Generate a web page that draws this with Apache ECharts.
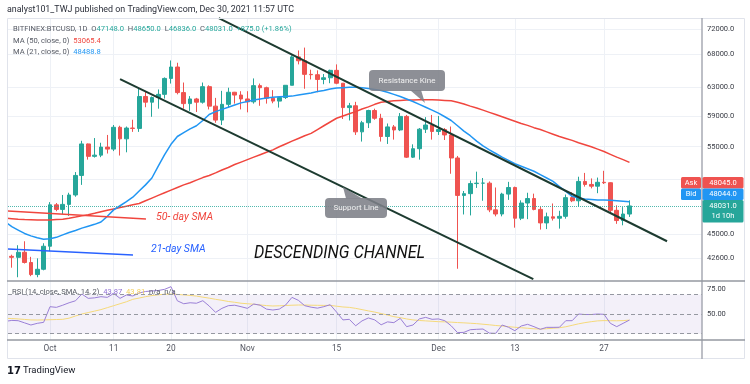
<!DOCTYPE html>
<html><head><meta charset="utf-8">
<script src="https://cdn.jsdelivr.net/npm/echarts@6/dist/echarts.min.js"></script>
<style>html,body{margin:0;padding:0;background:#fff;}#c{width:750px;height:384px;}</style>
</head><body><div id="c"></div>
<script>
const dates = ['Sep 24','Sep 25','Sep 26','Sep 27','Sep 28','Sep 29','Sep 30',
'Oct 1','Oct 2','Oct 3','Oct 4','Oct 5','Oct 6','Oct 7','Oct 8','Oct 9','Oct 10','Oct 11','Oct 12','Oct 13','Oct 14','Oct 15','Oct 16','Oct 17','Oct 18','Oct 19','Oct 20','Oct 21','Oct 22','Oct 23','Oct 24','Oct 25','Oct 26','Oct 27','Oct 28','Oct 29','Oct 30','Oct 31',
'Nov 1','Nov 2','Nov 3','Nov 4','Nov 5','Nov 6','Nov 7','Nov 8','Nov 9','Nov 10','Nov 11','Nov 12','Nov 13','Nov 14','Nov 15','Nov 16','Nov 17','Nov 18','Nov 19','Nov 20','Nov 21','Nov 22','Nov 23','Nov 24','Nov 25','Nov 26','Nov 27','Nov 28','Nov 29','Nov 30',
'Dec 1','Dec 2','Dec 3','Dec 4','Dec 5','Dec 6','Dec 7','Dec 8','Dec 9','Dec 10','Dec 11','Dec 12','Dec 13','Dec 14','Dec 15','Dec 16','Dec 17','Dec 18','Dec 19','Dec 20','Dec 21','Dec 22','Dec 23','Dec 24','Dec 25','Dec 26','Dec 27','Dec 28','Dec 29','Dec 30','Dec 31'];

const open = [44850,42800,42700,43200,42200,41050,41550,
43800,48150,47650,48200,49250,51500,55350,53800,53950,54950,54700,57500,56000,57400,57350,61700,60900,61550,62000,64300,66000,62250,60700,61350,60900,63100,60350,58450,60600,62300,61900,
61350,60950,63250,62950,61450,61050,61550,63300,67550,66950,64900,64850,64150,64400,65500,63600,60150,60400,56900,58100,59750,58700,56300,57550,57150,58950,53700,54750,57250,57800,
56950,57200,56500,53600,49200,49400,50550,50600,50600,47600,47150,49350,50100,46700,48350,48850,47650,46200,46850,46700,46900,48950,48600,50800,50450,50250,50700,50650,47550,46450,47148];
const close = [42800,42700,43200,42200,41050,41550,43800,
48150,47650,48200,49250,51500,55350,53800,53950,54950,54700,57500,56000,57400,57350,61700,60900,61550,62000,64300,66000,62250,60700,61350,60900,63100,60350,58450,60600,62300,61900,61350,
60950,63250,62950,61450,61050,61550,63300,67550,66950,64900,64850,64150,64400,65500,63600,60150,60400,56900,58100,59750,58700,56300,57550,57150,58950,53700,54750,57250,57800,56950,
57200,56500,53600,49200,49400,50550,50600,50600,47600,47150,49350,50100,46700,48350,48850,47650,46200,46850,46700,46900,48950,48600,50800,50450,50250,50700,50650,47550,46450,47150,48031];
const low = [40800,41700,40800,42100,40900,40800,41450,
43300,47450,47150,46950,49050,50400,53400,53650,53700,54150,54450,53900,54300,56900,56900,60200,58900,60000,61400,63550,62000,60000,59700,59550,60700,59900,58100,57800,60200,60700,59900,
59500,60700,60400,60700,60750,60150,61350,63300,66400,62800,64150,62300,63450,63600,63450,58600,58400,56500,55650,57400,58500,55650,55350,55900,57000,53600,53600,53400,56750,55900,
56500,55850,51700,41600,47100,47000,50050,48600,47350,46900,46900,48700,45700,46500,46600,47550,45500,45550,46450,45600,46650,48450,47950,50200,50000,49450,50500,47350,46100,45950,46836];
const high = [45100,42960,43900,44300,42750,42600,44100,
48450,48350,49250,49500,51900,55750,55400,56100,55500,56500,57800,57700,57600,58500,62900,62350,61700,62700,64450,67000,66650,63700,61750,61500,63700,63300,61500,62500,62950,62350,62450,
62450,64300,63550,63100,62600,61600,63300,67800,68550,69000,65600,65500,64950,65600,66400,63600,60800,60950,58350,59850,60000,59300,58000,57800,59400,59150,55300,57400,58850,59150,
59000,57400,57600,53850,49700,50900,51950,51200,50800,50100,49500,50750,50200,48650,49500,49400,47950,47300,48300,47500,49300,49550,51350,51800,51150,51250,52050,50700,48100,47900,48650];

const ma50 = [46700,46650,46600,46560,46530,46500,46500,46520,46560,46600,46700,46820,46950,47080,47230,47400,47550,47700,47850,48000,48150,48300,48600,48900,49200,49500,49800,50100,50400,50650,50950,51250,51500,51800,52150,52450,52800,53100,53400,53700,54000,54300,54600,55000,55350,55700,56050,56400,56700,57200,57700,58200,58700,59000,59300,59600,59950,60250,60600,60900,61000,61100,61150,61200,61200,61250,61250,61250,61200,61150,61100,60900,60650,60350,60100,59800,59500,59200,58900,58600,58300,58000,57750,57450,57200,56900,56600,56300,56050,55800,55500,55250,55000,54700,54400,54050,53700,53400,53065];
const ma21 = [46300,45800,45450,45100,44850,44650,44500,44550,44700,44950,45200,45400,45650,45850,46050,46300,46900,47600,48050,48500,49000,49700,50400,51200,52600,54000,55300,56300,56800,57300,57700,58400,59200,59600,59900,60200,60500,60800,61000,61200,61350,61500,61600,61650,61700,61750,61900,62050,62200,62400,62550,62750,62900,62950,63000,63000,62950,62850,62700,62550,62300,62000,61700,61350,61000,60600,60200,59800,59400,58900,58400,57700,57000,56400,55700,55100,54600,54150,53700,53300,52900,52600,52300,52000,51600,51200,50800,50200,49650,49100,48900,48800,48750,48700,48700,48650,48600,48550,48489];
const rsi = [42.5,43.5,43.2,41,38.8,40.5,41.5,57.5,56.8,59,61.5,63.5,70.4,66,66.5,67.7,67,71,66,69.4,68.4,71.5,73,73.5,74,75.2,77.9,63.5,60.5,61.5,61,63.6,58.2,51.7,55.8,58.5,59,57.5,55.8,60.2,59,55,54.1,55,59.2,67,64,58.5,57,56,57.5,59.5,52,44,44.6,38,43,46,44,39,42,41.2,45.6,37.1,38.8,45,46.6,44.6,45,43.2,38,31,31.3,34,34.4,34.7,30.5,30.3,38.8,36.5,33,37.8,39.5,37.1,34.4,36.4,36.4,36.5,43.2,43.2,50,49.5,49.5,50,49.7,40.5,37.1,40.5,43.87];
const rsiSignal = [45.6,45.4,45,44.5,44,43.9,44,44.2,44.4,44.6,45.8,48,50,51.5,53,54.5,56.5,58.5,60.5,62.5,65,66.3,67.7,68.8,69.6,70.2,70.3,70,69.5,69,68.3,67.2,66.2,65,64,62.8,62,61,60.5,60,59.3,58.6,58.2,58.4,58.7,59,59.2,59.2,59,58.9,58.8,58.8,58,57.2,56.8,55.8,54.5,53.2,52,50.5,49,47.3,46.3,45,44,43.4,43,42.6,42.2,42,41.7,41.3,41,40.6,40.2,39.6,39,38.3,37.8,37.1,36.5,36,35.5,34.9,34.7,35,35.5,36,37,38.5,40,41.2,42.2,43,43.3,43.2,43.1,43.3,43.81];

const priceTicks = [72000,68000,63000,59000,55000,51000,45000,42600];
const rsiTicks = [75,50];
const dateTickDays = ['Oct 1','Oct 11','Oct 20','Nov 1','Nov 15','Dec 1','Dec 13','Dec 27'];
const dateTickLabels = ['Oct','11','20','Nov','15','Dec','13','27'];
const lastPrice = 48031, askPrice = 48045, bidPrice = 48044;

// analyst drawings (day index, price)
const resistanceLine = [[33.5,73800],[103.9,44300]];
const supportLine = [[18,64200],[82.9,40630]];
const sma50Drawing = [[0.4,47476],[22.07,46612]];
const sma21Drawing = [[0.4,43521],[20.03,42927]];

const tickIdx = dateTickDays.map(d => dates.indexOf(d));
const candles = dates.map((d,i) => [i, open[i], close[i], low[i], high[i]]);
const pts = arr => arr.map((v,i) => [i, v]);

const X_MIN = 0.4036, X_MAX = 109.39;
const UP = '#26a69a', DOWN = '#ef5350';
const FONT = 'Roboto, "Noto Sans", sans-serif';
const gridCol = '#eef1f6';

const chart = echarts.init(document.getElementById('c'));
const xBase = {type:'value', min:X_MIN, max:X_MAX, axisLine:{show:false},
  axisTick:{show:false, customValues:tickIdx},
  splitLine:{show:true, lineStyle:{color:gridCol, width:1}}};

const option = {
  animation:false,
  backgroundColor:'#fff',
  grid:[{left:8,right:48,top:18,height:263},{left:8,right:48,top:281,height:59}],
  xAxis:[
    Object.assign({gridIndex:0, axisLabel:{show:false, customValues:tickIdx}}, xBase),
    Object.assign({gridIndex:1, axisLabel:{show:true, customValues:tickIdx, margin:5, color:'#50535e', fontSize:8.3, fontFamily:FONT,
      formatter: v => dateTickLabels[tickIdx.indexOf(Math.round(v))] || ''}}, xBase)
  ],
  yAxis:[
    {type:'log', gridIndex:0, position:'right', min:40450, max:73835, axisLine:{show:false},
     axisTick:{show:false, customValues:priceTicks},
     axisLabel:{customValues:priceTicks, margin:5, color:'#3a3d46', fontSize:7.5, fontFamily:FONT, formatter: v => Number(v).toFixed(1)},
     splitLine:{show:true, lineStyle:{color:gridCol, width:1}}},
    {type:'value', gridIndex:1, position:'right', min:23.5, max:83.7, axisLine:{show:false},
     axisTick:{show:false, customValues:rsiTicks},
     axisLabel:{customValues:rsiTicks, margin:5, color:'#3a3d46', fontSize:7.5, fontFamily:FONT, formatter: v => Number(v).toFixed(2)},
     splitLine:{show:false}}
  ],
  series:[
    {type:'candlestick', xAxisIndex:0, yAxisIndex:0, data:candles, encode:{x:0, y:[1,2,3,4]},
     barWidth:4.2, clip:true,
     itemStyle:{color:UP, color0:DOWN, borderColor:UP, borderColor0:DOWN, borderWidth:1},
     markLine:{silent:true, symbol:'none', label:{show:false},
       lineStyle:{color:UP, type:'dotted', width:1, opacity:0.8}, data:[{yAxis:lastPrice}]}},
    {type:'line', name:'MA50', xAxisIndex:0, yAxisIndex:0, data:pts(ma50), showSymbol:false, lineStyle:{color:'#f0463e', width:1.5}, clip:true},
    {type:'line', name:'MA21', xAxisIndex:0, yAxisIndex:0, data:pts(ma21), showSymbol:false, lineStyle:{color:'#2196f3', width:1.5}, clip:true},
    {type:'line', xAxisIndex:0, yAxisIndex:0, data:resistanceLine, showSymbol:false, lineStyle:{color:'#1d3b30', width:2}, clip:true, z:5},
    {type:'line', xAxisIndex:0, yAxisIndex:0, data:supportLine, showSymbol:false, lineStyle:{color:'#1d3b30', width:2}, clip:true, z:5},
    {type:'line', xAxisIndex:0, yAxisIndex:0, data:sma50Drawing, showSymbol:false, lineStyle:{color:'#f0463e', width:1.5}, clip:true},
    {type:'line', xAxisIndex:0, yAxisIndex:0, data:sma21Drawing, showSymbol:false, lineStyle:{color:'#2962ff', width:1.5}, clip:true},
    {type:'line', xAxisIndex:1, yAxisIndex:1, data:pts(rsiSignal), showSymbol:false, lineStyle:{color:'#f5d97a', width:1}, clip:true},
    {type:'line', xAxisIndex:1, yAxisIndex:1, data:pts(rsi), showSymbol:false, lineStyle:{color:'#9a7fd6', width:1}, clip:true,
     markArea:{silent:true, itemStyle:{color:'rgba(126,87,194,0.09)'}, data:[[{yAxis:30},{yAxis:70}]]},
     markLine:{silent:true, symbol:'none', label:{show:false}, lineStyle:{color:'#9598a1', type:[4,3], width:1},
       data:[{yAxis:70},{yAxis:50},{yAxis:30}]}}
  ],
  graphic:[]
};
chart.setOption(option);

// decorations
const g = [];
const txt = (x,y,text,opt) => g.push(Object.assign({type:'text', x, y, z:100, style:Object.assign({text, fill:'#333', font:'8px '+FONT, verticalAlign:'middle'}, opt||{})}));
g.push({type:'rect', z:90, shape:{x:7.5,y:18.5,width:737,height:340}, style:{fill:'none', stroke:'#e0e3eb', lineWidth:1}});
g.push({type:'line', z:95, shape:{x1:702,y1:18,x2:702,y2:359}, style:{stroke:'#a7aab3', lineWidth:1.5}});
g.push({type:'line', z:95, shape:{x1:7,y1:281,x2:745,y2:281}, style:{stroke:'#9598a1', lineWidth:1.5}});
g.push({type:'line', z:95, shape:{x1:7,y1:340,x2:745,y2:340}, style:{stroke:'#9598a1', lineWidth:1.5}});

txt(7,10,'analyst101_TWJ published on TradingView.com, Dec 30, 2021 11:57 UTC',{font:'8.9px '+FONT, fill:'#2a2e39'});
const rich = {g:{fill:'#555963', font:'7.6px '+FONT}, v:{fill:UP, font:'7.6px '+FONT}, r:{fill:'#f0463e', font:'7.6px '+FONT}, b:{fill:'#2196f3', font:'7.6px '+FONT},
  p:{fill:'#8f6fd3', font:'7.6px '+FONT}, y:{fill:'#f2cf5b', font:'7.6px '+FONT}};
txt(13,29.5,'{g|BITFINEX:BTCUSD, 1D  O}{v|47148.0}{g|  H}{v|48650.0}{g|  L}{v|46836.0}{g|  C}{v|48031.0}{v|  +875.0 (+1.86%)}',{rich});
txt(13,41.5,'{g|MA (50, close, 0)  }{r|53065.4}',{rich});
txt(13,52.5,'{g|MA (21, close, 0)  }{b|48488.8}',{rich});
txt(12,292,'{g|RSI (14, close, SMA, 14, 2)  }{p|43.87}{g|  }{y|43.81}{g|  n/a  n/a}',{rich});

txt(156,217,'50- day SMA',{font:'italic 10.5px '+FONT, fill:'#f0463e'});
txt(151,249,'21-day SMA',{font:'italic 10.5px '+FONT, fill:'#2962ff'});
g.push({type:'text', x:254, y:253, z:100, scaleX:0.9, style:{text:'DESCENDING CHANNEL', fill:'#111', font:'italic 18px '+FONT, verticalAlign:'middle'}});

const calloutFill = 'rgba(125,128,135,0.88)';
g.push({type:'polygon', z:98, shape:{points:[[410,90],[421,90],[425,103]]}, style:{fill:calloutFill}});
g.push({type:'rect', z:98, shape:{x:369,y:70,width:76,height:21,r:4}, style:{fill:calloutFill}});
txt(407,80.5,'Resistance Kine',{fill:'#f2f2f2', font:'8px '+FONT, align:'center'});
g.push({type:'polygon', z:98, shape:{points:[[343,187],[346,198.5],[362,198.5]]}, style:{fill:calloutFill}});
g.push({type:'rect', z:98, shape:{x:325,y:198,width:62,height:20,r:4}, style:{fill:calloutFill}});
txt(356,208,'Support Line',{fill:'#f2f2f2', font:'8px '+FONT, align:'center'});

const tag = (x,y,w,h,fill) => g.push({type:'rect', z:110, shape:{x,y,width:w,height:h,r:1.5}, style:{fill}});
tag(681,177,20,11.5,'#ef5350'); tag(702.5,177,41,11.5,'#ef5350');
tag(681,188.5,20,11.5,'#2196f3'); tag(702.5,188.5,41,11.5,'#2196f3');
tag(702.5,200,41,22.5,UP);
const ttxt = (x,y,t) => g.push({type:'text', x, y, z:111, style:{text:t, fill:'#fff', font:'7.5px '+FONT, align:'center', verticalAlign:'middle'}});
ttxt(691,183,'Ask'); ttxt(723,183,askPrice.toFixed(1));
ttxt(691,194.5,'Bid'); ttxt(723,194.5,bidPrice.toFixed(1));
ttxt(723,206,lastPrice.toFixed(1)); ttxt(723,216.5,'1d 10h');

txt(7,371,'17',{font:'bold 10px "DejaVu Sans", sans-serif', fill:'#131722'});
txt(23,371,'TradingView',{font:'9.5px '+FONT, fill:'#131722'});

chart.setOption({graphic:g});
</script></body></html>
